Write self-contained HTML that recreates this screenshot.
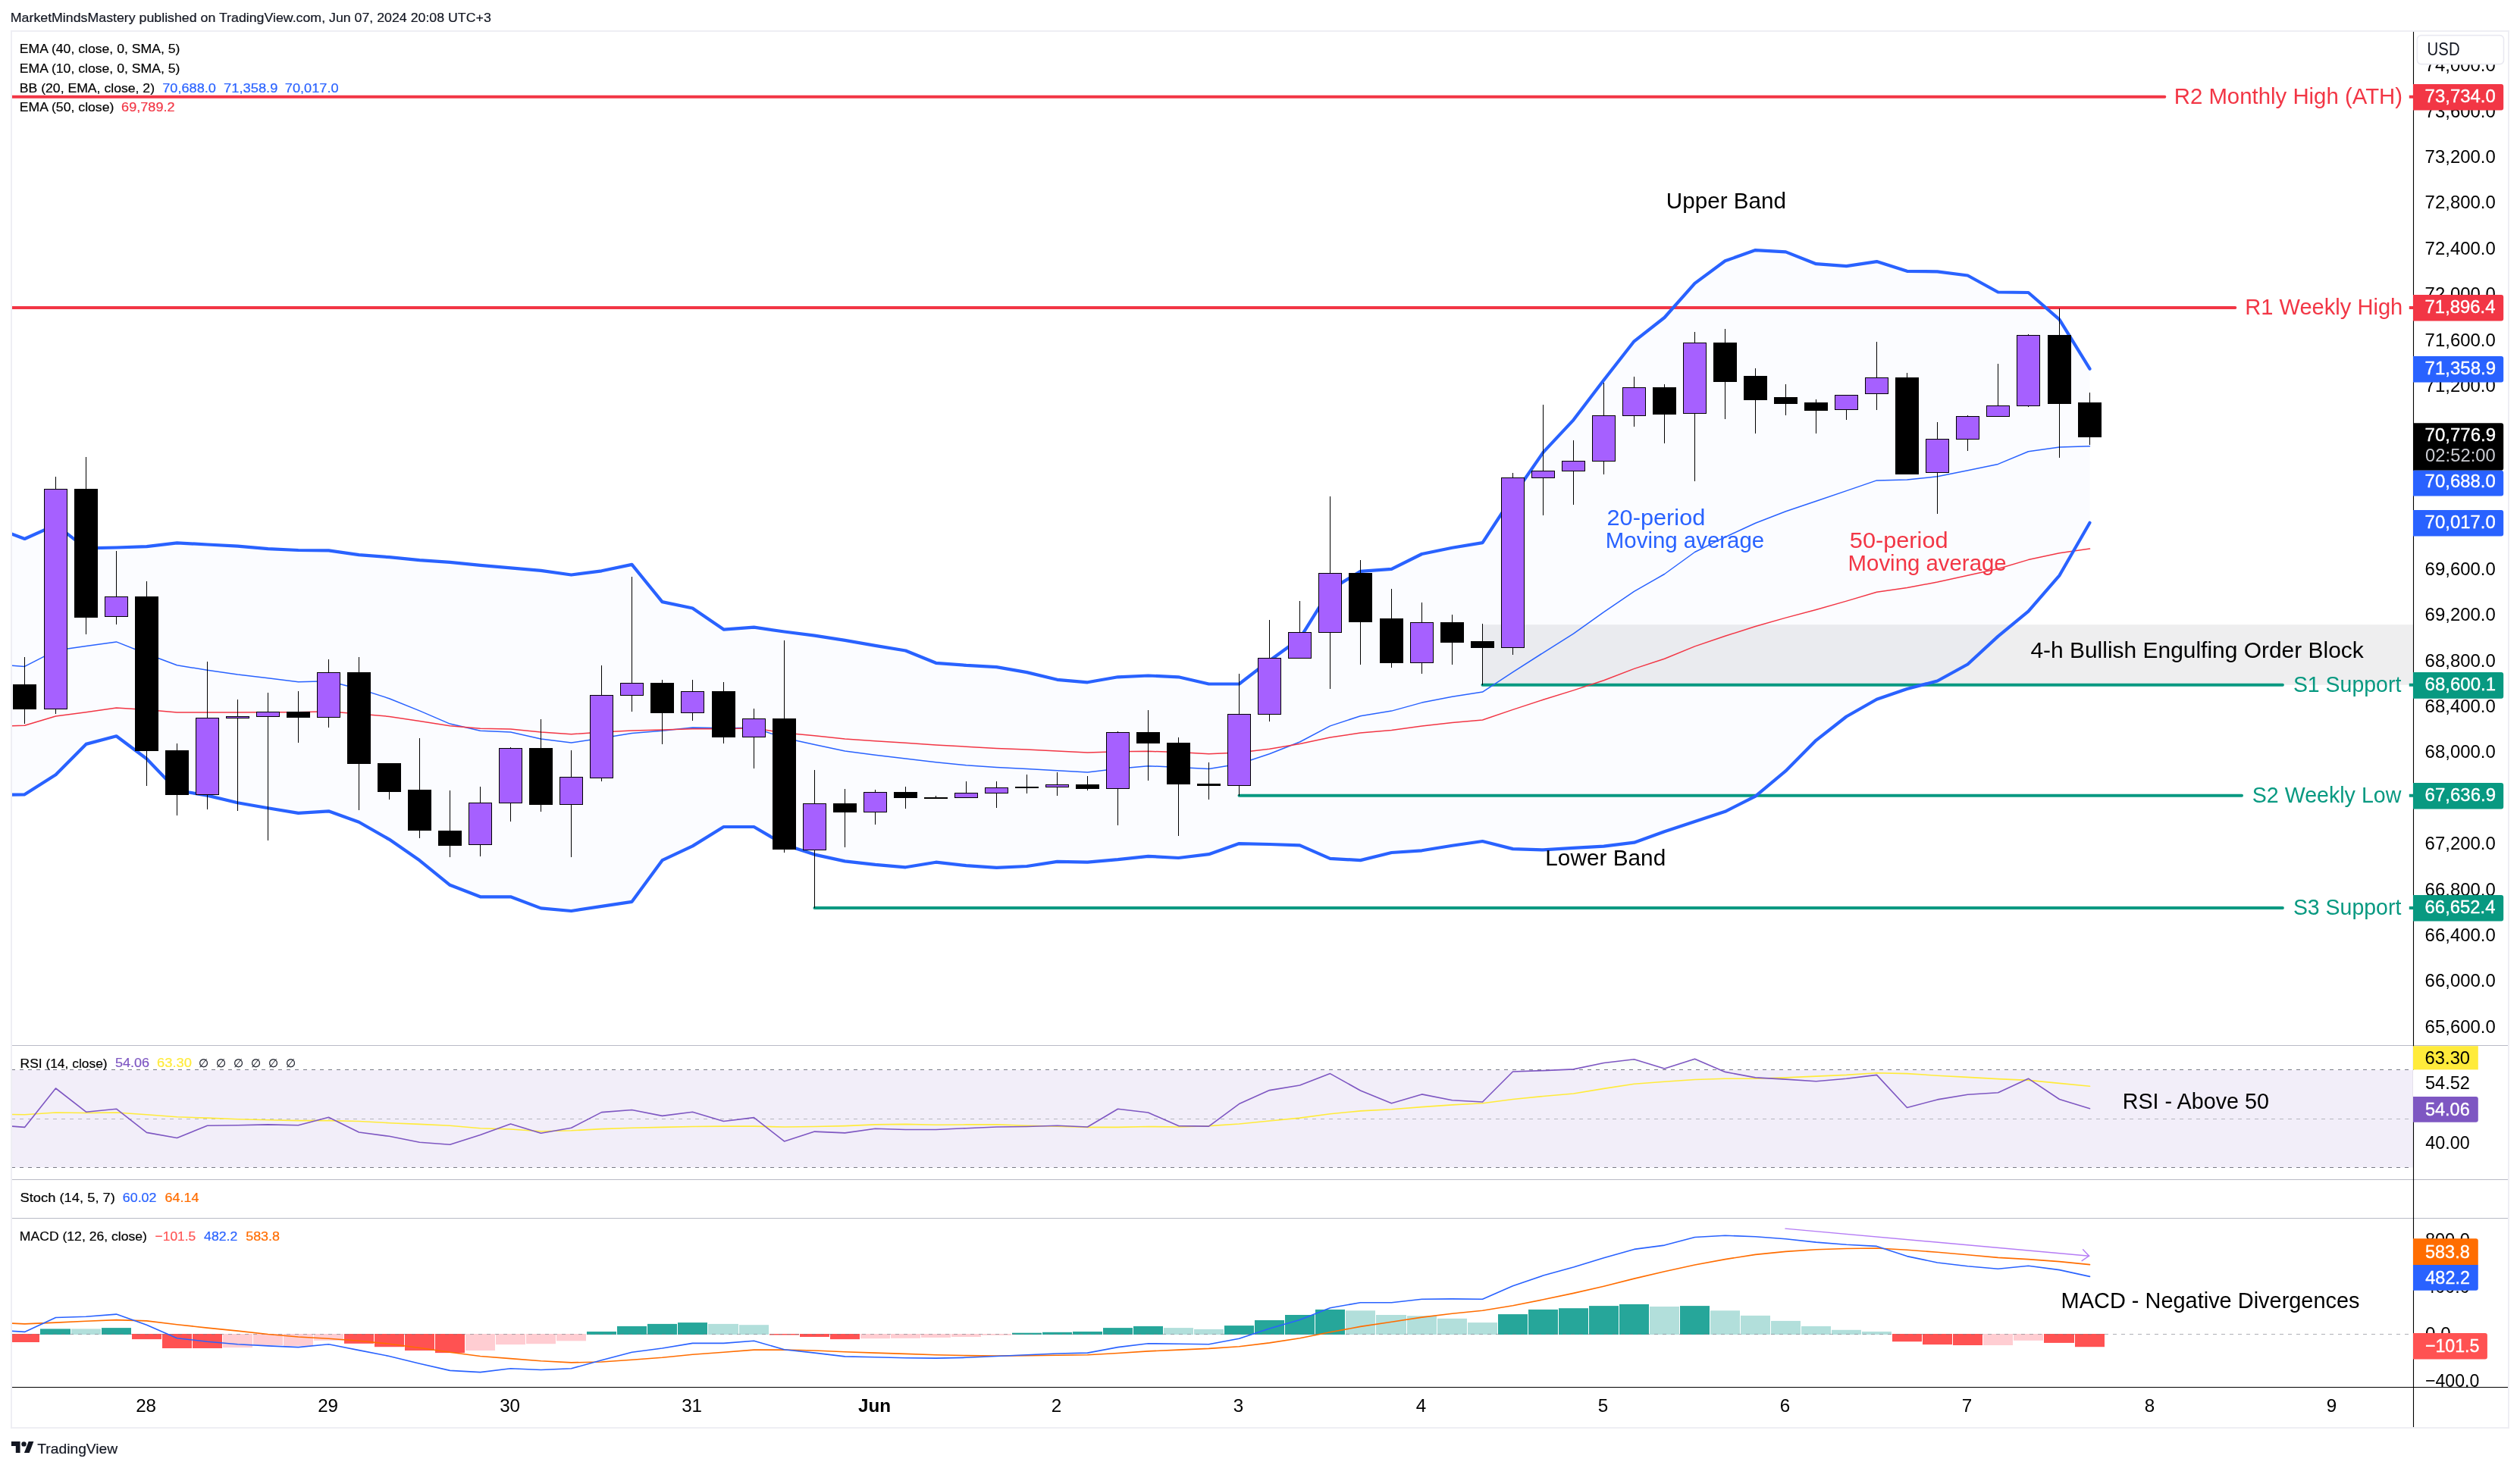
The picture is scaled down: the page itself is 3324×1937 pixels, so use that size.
<!DOCTYPE html><html><head><meta charset="utf-8"><title>BTCUSD chart</title><style>html,body{margin:0;padding:0;background:#fff}body{width:3324px;height:1937px;overflow:hidden}</style></head><body><svg width="3324" height="1937" viewBox="0 0 3324 1937" font-family='"Liberation Sans", sans-serif' style="display:block;filter:brightness(1)"><rect x="0" y="0" width="3324" height="1937" fill="#fff"/>
<text x="13.8" y="28.8" font-size="17.4" fill="#131722" textLength="634.0" lengthAdjust="spacingAndGlyphs" stroke="#131722" stroke-width="0.2">MarketMindsMastery published on TradingView.com, Jun 07, 2024 20:08 UTC+3</text>
<defs><clipPath id="cp"><rect x="16" y="42" width="3167.5" height="1337"/></clipPath><clipPath id="cr"><rect x="16" y="1380" width="3167.5" height="176"/></clipPath><clipPath id="cm"><rect x="16" y="1608" width="3167.5" height="222"/></clipPath><clipPath id="ca"><rect x="3182.9" y="42" width="125.6" height="1842"/></clipPath></defs>
<g clip-path="url(#cp)">
<polygon points="-7.5,696.1 32.5,711.0 73.5,692.6 113.5,723.4 153.5,722.5 193.5,721.2 233.5,716.3 273.5,718.5 313.5,720.7 353.5,724.2 393.5,726.0 433.5,726.4 473.5,732.2 513.5,735.2 553.5,739.2 593.5,741.8 633.5,745.8 673.5,749.3 713.5,752.8 753.5,758.5 793.5,753.3 833.5,744.9 873.5,794.1 913.5,802.5 954.5,830.6 994.5,827.6 1034.5,833.5 1074.5,838.7 1114.5,844.9 1154.5,851.9 1194.5,858.5 1234.5,874.8 1274.5,877.9 1314.5,880.1 1354.5,887.1 1394.5,896.8 1434.5,900.3 1474.5,893.3 1514.5,891.5 1554.5,893.3 1594.5,902.5 1634.5,902.5 1674.5,871.7 1714.5,842.7 1754.5,778.1 1794.5,753.9 1835.5,750.8 1875.5,731.0 1915.5,722.7 1955.5,716.1 1995.5,655.0 2035.5,596.9 2075.5,554.1 2115.5,501.4 2155.5,450.3 2195.5,419.0 2235.5,373.9 2275.5,344.3 2315.5,330.1 2355.5,332.4 2395.5,348.2 2435.5,351.2 2475.5,345.1 2515.5,357.8 2555.5,358.3 2595.5,363.5 2635.5,385.5 2675.5,386.0 2716.5,421.6 2756.5,486.7 2756.5,689.8 2716.5,759.3 2675.5,806.6 2635.5,839.6 2595.5,876.5 2555.5,898.5 2515.5,909.0 2475.5,922.7 2435.5,945.5 2395.5,976.8 2355.5,1017.2 2315.5,1050.6 2275.5,1070.8 2235.5,1084.0 2195.5,1097.2 2155.5,1111.7 2115.5,1116.6 2075.5,1118.8 2035.5,1121.4 1995.5,1120.1 1955.5,1110.0 1915.5,1115.7 1875.5,1122.3 1835.5,1125.0 1794.5,1135.1 1754.5,1132.9 1714.5,1115.3 1674.5,1114.0 1634.5,1113.1 1594.5,1127.2 1554.5,1132.0 1514.5,1129.8 1474.5,1134.2 1434.5,1137.7 1394.5,1136.9 1354.5,1143.0 1314.5,1144.8 1274.5,1142.1 1234.5,1137.7 1194.5,1144.3 1154.5,1140.8 1114.5,1136.4 1074.5,1127.6 1034.5,1114.4 994.5,1091.0 954.5,1091.0 913.5,1116.4 873.5,1135.2 833.5,1189.8 793.5,1195.8 753.5,1202.0 713.5,1198.4 673.5,1183.3 633.5,1183.3 593.5,1167.8 553.5,1135.3 513.5,1107.6 473.5,1084.8 433.5,1070.3 393.5,1072.9 353.5,1066.3 313.5,1059.3 273.5,1049.6 233.5,1043.0 193.5,1001.2 153.5,971.3 113.5,981.9 73.5,1022.3 32.5,1048.3 -7.5,1049.2" fill="#2962ff" fill-opacity="0.018"/>
<rect x="1955.5" y="824.2" width="1228.0" height="79.5" fill="#787b86" fill-opacity="0.13"/>
<line x1="16.0" y1="127.7" x2="2855.3" y2="127.7" stroke="#f23645" stroke-width="4" stroke-linecap="round"/>
<line x1="3177.8" y1="127.7" x2="3183.5" y2="127.7" stroke="#f23645" stroke-width="4"/>
<line x1="16.0" y1="406.0" x2="2948.3" y2="406.0" stroke="#f23645" stroke-width="4" stroke-linecap="round"/>
<line x1="3177.8" y1="406.0" x2="3183.5" y2="406.0" stroke="#f23645" stroke-width="4"/>
<line x1="1955.5" y1="903.7" x2="3010.9" y2="903.7" stroke="#089981" stroke-width="4" stroke-linecap="round"/>
<line x1="3177.8" y1="903.7" x2="3183.5" y2="903.7" stroke="#089981" stroke-width="4"/>
<line x1="1634.5" y1="1049.7" x2="2957.0" y2="1049.7" stroke="#089981" stroke-width="4" stroke-linecap="round"/>
<line x1="3177.8" y1="1049.7" x2="3183.5" y2="1049.7" stroke="#089981" stroke-width="4"/>
<line x1="1074.5" y1="1197.9" x2="3010.9" y2="1197.9" stroke="#089981" stroke-width="4" stroke-linecap="round"/>
<line x1="3177.8" y1="1197.9" x2="3183.5" y2="1197.9" stroke="#089981" stroke-width="4"/>
<polyline points="-7.5,876.8 32.5,879.4 73.5,858.3 113.5,852.6 153.5,846.9 193.5,862.7 233.5,877.7 273.5,884.3 313.5,890.0 353.5,894.8 393.5,899.7 433.5,898.8 473.5,908.9 513.5,921.7 553.5,937.9 593.5,955.1 633.5,964.3 673.5,966.1 713.5,974.9 753.5,980.1 793.5,974.0 833.5,967.4 873.5,964.3 913.5,959.9 954.5,960.8 994.5,960.3 1034.5,973.7 1074.5,982.5 1114.5,990.9 1154.5,996.2 1194.5,1001.0 1234.5,1005.8 1274.5,1009.8 1314.5,1012.4 1354.5,1014.6 1394.5,1016.8 1434.5,1019.0 1474.5,1014.2 1514.5,1010.7 1554.5,1012.4 1594.5,1014.6 1634.5,1008.0 1674.5,994.8 1714.5,979.0 1754.5,957.9 1794.5,944.7 1835.5,938.1 1875.5,927.1 1915.5,919.2 1955.5,913.1 1995.5,886.8 2035.5,861.3 2075.5,836.2 2115.5,807.6 2155.5,780.4 2195.5,757.5 2235.5,728.5 2275.5,708.7 2315.5,690.2 2355.5,674.8 2395.5,661.2 2435.5,647.6 2475.5,633.9 2515.5,633.1 2555.5,628.7 2595.5,620.8 2635.5,612.4 2675.5,595.7 2716.5,590.0 2756.5,588.7" fill="none" stroke="#2962ff" stroke-width="1.5" stroke-linejoin="round" stroke-linecap="round"/>
<polyline points="-7.5,958.1 32.5,957.3 73.5,945.0 113.5,939.7 153.5,934.0 193.5,936.6 233.5,940.1 273.5,940.1 313.5,940.1 353.5,939.7 393.5,939.7 433.5,938.8 473.5,941.9 513.5,945.4 553.5,951.6 593.5,957.7 633.5,961.2 673.5,962.1 713.5,966.1 753.5,968.7 793.5,966.1 833.5,963.9 873.5,963.0 913.5,961.7 954.5,961.7 994.5,960.8 1034.5,967.1 1074.5,970.7 1114.5,975.0 1154.5,977.7 1194.5,980.3 1234.5,983.0 1274.5,985.2 1314.5,987.4 1354.5,989.1 1394.5,990.9 1434.5,993.1 1474.5,991.8 1514.5,991.3 1554.5,992.6 1594.5,994.8 1634.5,993.1 1674.5,988.2 1714.5,981.6 1754.5,972.9 1794.5,967.1 1835.5,963.6 1875.5,957.9 1915.5,953.5 1955.5,950.0 1995.5,936.4 2035.5,923.3 2075.5,910.9 2115.5,897.8 2155.5,882.4 2195.5,869.2 2235.5,852.9 2275.5,839.3 2315.5,826.5 2355.5,815.1 2395.5,804.5 2435.5,793.1 2475.5,781.2 2515.5,775.5 2555.5,768.0 2595.5,759.3 2635.5,750.5 2675.5,738.6 2716.5,729.8 2756.5,724.1" fill="none" stroke="#f23645" stroke-width="1.5" stroke-linejoin="round" stroke-linecap="round"/>
<polyline points="-7.5,696.1 32.5,711.0 73.5,692.6 113.5,723.4 153.5,722.5 193.5,721.2 233.5,716.3 273.5,718.5 313.5,720.7 353.5,724.2 393.5,726.0 433.5,726.4 473.5,732.2 513.5,735.2 553.5,739.2 593.5,741.8 633.5,745.8 673.5,749.3 713.5,752.8 753.5,758.5 793.5,753.3 833.5,744.9 873.5,794.1 913.5,802.5 954.5,830.6 994.5,827.6 1034.5,833.5 1074.5,838.7 1114.5,844.9 1154.5,851.9 1194.5,858.5 1234.5,874.8 1274.5,877.9 1314.5,880.1 1354.5,887.1 1394.5,896.8 1434.5,900.3 1474.5,893.3 1514.5,891.5 1554.5,893.3 1594.5,902.5 1634.5,902.5 1674.5,871.7 1714.5,842.7 1754.5,778.1 1794.5,753.9 1835.5,750.8 1875.5,731.0 1915.5,722.7 1955.5,716.1 1995.5,655.0 2035.5,596.9 2075.5,554.1 2115.5,501.4 2155.5,450.3 2195.5,419.0 2235.5,373.9 2275.5,344.3 2315.5,330.1 2355.5,332.4 2395.5,348.2 2435.5,351.2 2475.5,345.1 2515.5,357.8 2555.5,358.3 2595.5,363.5 2635.5,385.5 2675.5,386.0 2716.5,421.6 2756.5,486.7" fill="none" stroke="#2962ff" stroke-width="4.2" stroke-linejoin="round" stroke-linecap="round"/>
<polyline points="-7.5,1049.2 32.5,1048.3 73.5,1022.3 113.5,981.9 153.5,971.3 193.5,1001.2 233.5,1043.0 273.5,1049.6 313.5,1059.3 353.5,1066.3 393.5,1072.9 433.5,1070.3 473.5,1084.8 513.5,1107.6 553.5,1135.3 593.5,1167.8 633.5,1183.3 673.5,1183.3 713.5,1198.4 753.5,1202.0 793.5,1195.8 833.5,1189.8 873.5,1135.2 913.5,1116.4 954.5,1091.0 994.5,1091.0 1034.5,1114.4 1074.5,1127.6 1114.5,1136.4 1154.5,1140.8 1194.5,1144.3 1234.5,1137.7 1274.5,1142.1 1314.5,1144.8 1354.5,1143.0 1394.5,1136.9 1434.5,1137.7 1474.5,1134.2 1514.5,1129.8 1554.5,1132.0 1594.5,1127.2 1634.5,1113.1 1674.5,1114.0 1714.5,1115.3 1754.5,1132.9 1794.5,1135.1 1835.5,1125.0 1875.5,1122.3 1915.5,1115.7 1955.5,1110.0 1995.5,1120.1 2035.5,1121.4 2075.5,1118.8 2115.5,1116.6 2155.5,1111.7 2195.5,1097.2 2235.5,1084.0 2275.5,1070.8 2315.5,1050.6 2355.5,1017.2 2395.5,976.8 2435.5,945.5 2475.5,922.7 2515.5,909.0 2555.5,898.5 2595.5,876.5 2635.5,839.6 2675.5,806.6 2716.5,759.3 2756.5,689.8" fill="none" stroke="#2962ff" stroke-width="4.2" stroke-linejoin="round" stroke-linecap="round"/>
<g shape-rendering="crispEdges">
<line x1="32.5" y1="867.2" x2="32.5" y2="954.7" stroke="#000" stroke-width="1"/>
<rect x="17.5" y="903.2" width="30" height="32.5" fill="#000" stroke="#000" stroke-width="1"/>
<line x1="73.5" y1="629.3" x2="73.5" y2="941.5" stroke="#000" stroke-width="1"/>
<rect x="58.5" y="645.6" width="30" height="289.8" fill="#a660ff" stroke="#000" stroke-width="1"/>
<line x1="113.5" y1="602.5" x2="113.5" y2="836.9" stroke="#000" stroke-width="1"/>
<rect x="98.5" y="645.2" width="30" height="168.8" fill="#000" stroke="#000" stroke-width="1"/>
<line x1="153.5" y1="726.5" x2="153.5" y2="823.7" stroke="#000" stroke-width="1"/>
<rect x="138.5" y="787.6" width="30" height="25.9" fill="#a660ff" stroke="#000" stroke-width="1"/>
<line x1="193.5" y1="767.4" x2="193.5" y2="1037.4" stroke="#000" stroke-width="1"/>
<rect x="178.5" y="787.2" width="30" height="203.6" fill="#000" stroke="#000" stroke-width="1"/>
<line x1="233.5" y1="981.1" x2="233.5" y2="1075.6" stroke="#000" stroke-width="1"/>
<rect x="218.5" y="990.3" width="30" height="58.5" fill="#000" stroke="#000" stroke-width="1"/>
<line x1="273.5" y1="873.4" x2="273.5" y2="1067.7" stroke="#000" stroke-width="1"/>
<rect x="258.5" y="947.2" width="30" height="101.1" fill="#a660ff" stroke="#000" stroke-width="1"/>
<line x1="313.5" y1="923.0" x2="313.5" y2="1069.9" stroke="#000" stroke-width="1"/>
<rect x="298.5" y="945.5" width="30" height="2.2" fill="#a660ff" stroke="#000" stroke-width="1"/>
<line x1="353.5" y1="914.2" x2="353.5" y2="1108.6" stroke="#000" stroke-width="1"/>
<rect x="338.5" y="939.3" width="30" height="6.2" fill="#a660ff" stroke="#000" stroke-width="1"/>
<line x1="393.5" y1="912.0" x2="393.5" y2="979.8" stroke="#000" stroke-width="1"/>
<rect x="378.5" y="939.3" width="30" height="7.0" fill="#000" stroke="#000" stroke-width="1"/>
<line x1="433.5" y1="870.3" x2="433.5" y2="960.0" stroke="#000" stroke-width="1"/>
<rect x="418.5" y="887.4" width="30" height="58.9" fill="#a660ff" stroke="#000" stroke-width="1"/>
<line x1="473.5" y1="867.2" x2="473.5" y2="1068.6" stroke="#000" stroke-width="1"/>
<rect x="458.5" y="887.4" width="30" height="120.0" fill="#000" stroke="#000" stroke-width="1"/>
<line x1="513.5" y1="1007.5" x2="513.5" y2="1054.5" stroke="#000" stroke-width="1"/>
<rect x="498.5" y="1007.5" width="30" height="36.5" fill="#000" stroke="#000" stroke-width="1"/>
<line x1="553.5" y1="974.0" x2="553.5" y2="1105.5" stroke="#000" stroke-width="1"/>
<rect x="538.5" y="1042.2" width="30" height="53.2" fill="#000" stroke="#000" stroke-width="1"/>
<line x1="593.5" y1="1043.1" x2="593.5" y2="1130.6" stroke="#000" stroke-width="1"/>
<rect x="578.5" y="1096.3" width="30" height="19.3" fill="#000" stroke="#000" stroke-width="1"/>
<line x1="633.5" y1="1037.8" x2="633.5" y2="1129.7" stroke="#000" stroke-width="1"/>
<rect x="618.5" y="1059.3" width="30" height="55.0" fill="#a660ff" stroke="#000" stroke-width="1"/>
<line x1="673.5" y1="985.9" x2="673.5" y2="1084.0" stroke="#000" stroke-width="1"/>
<rect x="658.5" y="987.2" width="30" height="72.1" fill="#a660ff" stroke="#000" stroke-width="1"/>
<line x1="713.5" y1="949.0" x2="713.5" y2="1070.8" stroke="#000" stroke-width="1"/>
<rect x="698.5" y="987.2" width="30" height="74.3" fill="#000" stroke="#000" stroke-width="1"/>
<line x1="753.5" y1="989.9" x2="753.5" y2="1130.6" stroke="#000" stroke-width="1"/>
<rect x="738.5" y="1025.9" width="30" height="35.6" fill="#a660ff" stroke="#000" stroke-width="1"/>
<line x1="793.5" y1="877.7" x2="793.5" y2="1030.8" stroke="#000" stroke-width="1"/>
<rect x="778.5" y="917.3" width="30" height="109.0" fill="#a660ff" stroke="#000" stroke-width="1"/>
<line x1="833.5" y1="761.2" x2="833.5" y2="938.9" stroke="#000" stroke-width="1"/>
<rect x="818.5" y="901.1" width="30" height="16.3" fill="#a660ff" stroke="#000" stroke-width="1"/>
<line x1="873.5" y1="897.1" x2="873.5" y2="982.0" stroke="#000" stroke-width="1"/>
<rect x="858.5" y="901.1" width="30" height="39.6" fill="#000" stroke="#000" stroke-width="1"/>
<line x1="913.5" y1="897.1" x2="913.5" y2="950.7" stroke="#000" stroke-width="1"/>
<rect x="898.5" y="912.5" width="30" height="27.7" fill="#a660ff" stroke="#000" stroke-width="1"/>
<line x1="954.5" y1="900.2" x2="954.5" y2="981.1" stroke="#000" stroke-width="1"/>
<rect x="939.5" y="912.5" width="30" height="60.2" fill="#000" stroke="#000" stroke-width="1"/>
<line x1="994.5" y1="934.9" x2="994.5" y2="1013.6" stroke="#000" stroke-width="1"/>
<rect x="979.5" y="948.5" width="30" height="24.2" fill="#a660ff" stroke="#000" stroke-width="1"/>
<line x1="1034.5" y1="844.5" x2="1034.5" y2="1124.6" stroke="#000" stroke-width="1"/>
<rect x="1019.5" y="948.3" width="30" height="172.4" fill="#000" stroke="#000" stroke-width="1"/>
<line x1="1074.5" y1="1016.0" x2="1074.5" y2="1197.6" stroke="#000" stroke-width="1"/>
<rect x="1059.5" y="1060.8" width="30" height="60.7" fill="#a660ff" stroke="#000" stroke-width="1"/>
<line x1="1114.5" y1="1041.1" x2="1114.5" y2="1118.0" stroke="#000" stroke-width="1"/>
<rect x="1099.5" y="1060.4" width="30" height="11.4" fill="#000" stroke="#000" stroke-width="1"/>
<line x1="1154.5" y1="1042.4" x2="1154.5" y2="1087.7" stroke="#000" stroke-width="1"/>
<rect x="1139.5" y="1045.5" width="30" height="26.4" fill="#a660ff" stroke="#000" stroke-width="1"/>
<line x1="1194.5" y1="1038.0" x2="1194.5" y2="1067.4" stroke="#000" stroke-width="1"/>
<rect x="1179.5" y="1045.5" width="30" height="7.0" fill="#000" stroke="#000" stroke-width="1"/>
<line x1="1234.5" y1="1049.9" x2="1234.5" y2="1052.9" stroke="#000" stroke-width="1"/>
<rect x="1219.5" y="1052.1" width="30" height="1.0" fill="#000" stroke="#000" stroke-width="1"/>
<line x1="1274.5" y1="1031.4" x2="1274.5" y2="1052.5" stroke="#000" stroke-width="1"/>
<rect x="1259.5" y="1046.3" width="30" height="6.2" fill="#a660ff" stroke="#000" stroke-width="1"/>
<line x1="1314.5" y1="1030.5" x2="1314.5" y2="1065.7" stroke="#000" stroke-width="1"/>
<rect x="1299.5" y="1039.3" width="30" height="7.5" fill="#a660ff" stroke="#000" stroke-width="1"/>
<line x1="1354.5" y1="1022.2" x2="1354.5" y2="1046.8" stroke="#000" stroke-width="1"/>
<rect x="1339.5" y="1038.0" width="30" height="1.8" fill="#000" stroke="#000" stroke-width="1"/>
<line x1="1394.5" y1="1019.1" x2="1394.5" y2="1049.9" stroke="#000" stroke-width="1"/>
<rect x="1379.5" y="1035.3" width="30" height="3.5" fill="#a660ff" stroke="#000" stroke-width="1"/>
<line x1="1434.5" y1="1024.4" x2="1434.5" y2="1042.8" stroke="#000" stroke-width="1"/>
<rect x="1419.5" y="1035.3" width="30" height="5.3" fill="#000" stroke="#000" stroke-width="1"/>
<line x1="1474.5" y1="965.0" x2="1474.5" y2="1089.4" stroke="#000" stroke-width="1"/>
<rect x="1459.5" y="966.3" width="30" height="73.9" fill="#a660ff" stroke="#000" stroke-width="1"/>
<line x1="1514.5" y1="937.3" x2="1514.5" y2="1029.6" stroke="#000" stroke-width="1"/>
<rect x="1499.5" y="966.3" width="30" height="14.5" fill="#000" stroke="#000" stroke-width="1"/>
<line x1="1554.5" y1="972.5" x2="1554.5" y2="1102.6" stroke="#000" stroke-width="1"/>
<rect x="1539.5" y="980.4" width="30" height="54.5" fill="#000" stroke="#000" stroke-width="1"/>
<line x1="1594.5" y1="1006.3" x2="1594.5" y2="1054.7" stroke="#000" stroke-width="1"/>
<rect x="1579.5" y="1034.0" width="30" height="2.6" fill="#000" stroke="#000" stroke-width="1"/>
<line x1="1634.5" y1="889.4" x2="1634.5" y2="1049.9" stroke="#000" stroke-width="1"/>
<rect x="1619.5" y="942.6" width="30" height="94.1" fill="#a660ff" stroke="#000" stroke-width="1"/>
<line x1="1674.5" y1="818.1" x2="1674.5" y2="951.8" stroke="#000" stroke-width="1"/>
<rect x="1659.5" y="868.7" width="30" height="73.9" fill="#a660ff" stroke="#000" stroke-width="1"/>
<line x1="1714.5" y1="793.1" x2="1714.5" y2="868.7" stroke="#000" stroke-width="1"/>
<rect x="1699.5" y="834.9" width="30" height="33.9" fill="#a660ff" stroke="#000" stroke-width="1"/>
<line x1="1754.5" y1="654.6" x2="1754.5" y2="908.7" stroke="#000" stroke-width="1"/>
<rect x="1739.5" y="756.6" width="30" height="78.3" fill="#a660ff" stroke="#000" stroke-width="1"/>
<line x1="1794.5" y1="738.6" x2="1794.5" y2="877.1" stroke="#000" stroke-width="1"/>
<rect x="1779.5" y="756.6" width="30" height="64.2" fill="#000" stroke="#000" stroke-width="1"/>
<line x1="1835.5" y1="777.3" x2="1835.5" y2="881.0" stroke="#000" stroke-width="1"/>
<rect x="1820.5" y="816.4" width="30" height="58.5" fill="#000" stroke="#000" stroke-width="1"/>
<line x1="1875.5" y1="795.3" x2="1875.5" y2="888.9" stroke="#000" stroke-width="1"/>
<rect x="1860.5" y="821.7" width="30" height="53.2" fill="#a660ff" stroke="#000" stroke-width="1"/>
<line x1="1915.5" y1="810.7" x2="1915.5" y2="877.1" stroke="#000" stroke-width="1"/>
<rect x="1900.5" y="821.7" width="30" height="25.5" fill="#000" stroke="#000" stroke-width="1"/>
<line x1="1955.5" y1="823.4" x2="1955.5" y2="903.9" stroke="#000" stroke-width="1"/>
<rect x="1940.5" y="846.7" width="30" height="7.9" fill="#000" stroke="#000" stroke-width="1"/>
<line x1="1995.5" y1="623.5" x2="1995.5" y2="864.0" stroke="#000" stroke-width="1"/>
<rect x="1980.5" y="630.9" width="30" height="223.4" fill="#a660ff" stroke="#000" stroke-width="1"/>
<line x1="2035.5" y1="534.2" x2="2035.5" y2="680.2" stroke="#000" stroke-width="1"/>
<rect x="2020.5" y="621.7" width="30" height="9.2" fill="#a660ff" stroke="#000" stroke-width="1"/>
<line x1="2075.5" y1="581.2" x2="2075.5" y2="666.1" stroke="#000" stroke-width="1"/>
<rect x="2060.5" y="608.5" width="30" height="13.2" fill="#a660ff" stroke="#000" stroke-width="1"/>
<line x1="2115.5" y1="505.2" x2="2115.5" y2="626.1" stroke="#000" stroke-width="1"/>
<rect x="2100.5" y="548.7" width="30" height="59.8" fill="#a660ff" stroke="#000" stroke-width="1"/>
<line x1="2155.5" y1="497.3" x2="2155.5" y2="563.2" stroke="#000" stroke-width="1"/>
<rect x="2140.5" y="511.8" width="30" height="36.9" fill="#a660ff" stroke="#000" stroke-width="1"/>
<line x1="2195.5" y1="507.4" x2="2195.5" y2="584.8" stroke="#000" stroke-width="1"/>
<rect x="2180.5" y="511.3" width="30" height="34.7" fill="#000" stroke="#000" stroke-width="1"/>
<line x1="2235.5" y1="438.3" x2="2235.5" y2="634.9" stroke="#000" stroke-width="1"/>
<rect x="2220.5" y="452.9" width="30" height="92.8" fill="#a660ff" stroke="#000" stroke-width="1"/>
<line x1="2275.5" y1="434.4" x2="2275.5" y2="553.1" stroke="#000" stroke-width="1"/>
<rect x="2260.5" y="452.9" width="30" height="50.1" fill="#000" stroke="#000" stroke-width="1"/>
<line x1="2315.5" y1="486.3" x2="2315.5" y2="572.0" stroke="#000" stroke-width="1"/>
<rect x="2300.5" y="496.4" width="30" height="30.8" fill="#000" stroke="#000" stroke-width="1"/>
<line x1="2355.5" y1="507.4" x2="2355.5" y2="547.8" stroke="#000" stroke-width="1"/>
<rect x="2340.5" y="524.5" width="30" height="7.5" fill="#000" stroke="#000" stroke-width="1"/>
<line x1="2395.5" y1="527.2" x2="2395.5" y2="572.0" stroke="#000" stroke-width="1"/>
<rect x="2380.5" y="531.6" width="30" height="9.7" fill="#000" stroke="#000" stroke-width="1"/>
<line x1="2435.5" y1="521.4" x2="2435.5" y2="554.0" stroke="#000" stroke-width="1"/>
<rect x="2420.5" y="521.4" width="30" height="19.3" fill="#a660ff" stroke="#000" stroke-width="1"/>
<line x1="2475.5" y1="451.1" x2="2475.5" y2="540.8" stroke="#000" stroke-width="1"/>
<rect x="2460.5" y="498.6" width="30" height="21.1" fill="#a660ff" stroke="#000" stroke-width="1"/>
<line x1="2515.5" y1="491.5" x2="2515.5" y2="625.7" stroke="#000" stroke-width="1"/>
<rect x="2500.5" y="498.6" width="30" height="127.1" fill="#000" stroke="#000" stroke-width="1"/>
<line x1="2555.5" y1="557.1" x2="2555.5" y2="678.0" stroke="#000" stroke-width="1"/>
<rect x="2540.5" y="579.9" width="30" height="43.5" fill="#a660ff" stroke="#000" stroke-width="1"/>
<line x1="2595.5" y1="547.8" x2="2595.5" y2="595.3" stroke="#000" stroke-width="1"/>
<rect x="2580.5" y="549.6" width="30" height="30.3" fill="#a660ff" stroke="#000" stroke-width="1"/>
<line x1="2635.5" y1="480.1" x2="2635.5" y2="549.6" stroke="#000" stroke-width="1"/>
<rect x="2620.5" y="535.5" width="30" height="14.1" fill="#a660ff" stroke="#000" stroke-width="1"/>
<line x1="2675.5" y1="441.4" x2="2675.5" y2="536.8" stroke="#000" stroke-width="1"/>
<rect x="2660.5" y="442.7" width="30" height="92.8" fill="#a660ff" stroke="#000" stroke-width="1"/>
<line x1="2716.5" y1="406.7" x2="2716.5" y2="604.1" stroke="#000" stroke-width="1"/>
<rect x="2701.5" y="442.7" width="30" height="89.3" fill="#000" stroke="#000" stroke-width="1"/>
<line x1="2756.5" y1="518.4" x2="2756.5" y2="587.0" stroke="#000" stroke-width="1"/>
<rect x="2741.5" y="531.6" width="30" height="44.4" fill="#000" stroke="#000" stroke-width="1"/>
</g>
<text x="2867.7" y="136.5" font-size="30.4" fill="#f23645" textLength="301.4" lengthAdjust="spacingAndGlyphs">R2 Monthly High (ATH)</text>
<text x="2961.2" y="414.8" font-size="30.4" fill="#f23645" textLength="208.1" lengthAdjust="spacingAndGlyphs">R1 Weekly High</text>
<text x="3024.9" y="912.5" font-size="30.4" fill="#089981" textLength="142.4" lengthAdjust="spacingAndGlyphs">S1 Support</text>
<text x="2970.7" y="1058.5" font-size="30.4" fill="#089981" textLength="196.7" lengthAdjust="spacingAndGlyphs">S2 Weekly Low</text>
<text x="3024.9" y="1206.7" font-size="30.4" fill="#089981" textLength="142.4" lengthAdjust="spacingAndGlyphs">S3 Support</text>
<text x="2197.8" y="275.1" font-size="30.4" fill="#000" textLength="158.2" lengthAdjust="spacingAndGlyphs">Upper Band</text>
<text x="2038.3" y="1142.0" font-size="30.4" fill="#000" textLength="158.9" lengthAdjust="spacingAndGlyphs">Lower Band</text>
<text x="2119.5" y="693.3" font-size="30.4" fill="#2962ff" textLength="129.8" lengthAdjust="spacingAndGlyphs">20-period</text>
<text x="2117.8" y="723.1" font-size="30.4" fill="#2962ff" textLength="209.4" lengthAdjust="spacingAndGlyphs">Moving average</text>
<text x="2439.8" y="723.1" font-size="30.4" fill="#f23645" textLength="129.8" lengthAdjust="spacingAndGlyphs">50-period</text>
<text x="2437.6" y="753.2" font-size="30.4" fill="#f23645" textLength="209.1" lengthAdjust="spacingAndGlyphs">Moving average</text>
<text x="2678.4" y="868.3" font-size="30.4" fill="#000" textLength="439.4" lengthAdjust="spacingAndGlyphs">4-h Bullish Engulfing Order Block</text>
</g>
<text x="25.8" y="69.7" font-size="17.4" fill="#000" textLength="211.6" lengthAdjust="spacingAndGlyphs" stroke="#000" stroke-width="0.2">EMA (40, close, 0, SMA, 5)</text>
<text x="25.8" y="95.7" font-size="17.4" fill="#000" textLength="211.6" lengthAdjust="spacingAndGlyphs" stroke="#000" stroke-width="0.2">EMA (10, close, 0, SMA, 5)</text>
<text x="25.8" y="121.7" font-size="17.4" fill="#000" textLength="178.2" lengthAdjust="spacingAndGlyphs" stroke="#000" stroke-width="0.2">BB (20, EMA, close, 2)</text>
<text x="214.2" y="121.7" font-size="17.4" fill="#2962ff" textLength="70.7" lengthAdjust="spacingAndGlyphs" stroke="#2962ff" stroke-width="0.2">70,688.0</text>
<text x="295.1" y="121.7" font-size="17.4" fill="#2962ff" textLength="71.3" lengthAdjust="spacingAndGlyphs" stroke="#2962ff" stroke-width="0.2">71,358.9</text>
<text x="375.8" y="121.7" font-size="17.4" fill="#2962ff" textLength="70.9" lengthAdjust="spacingAndGlyphs" stroke="#2962ff" stroke-width="0.2">70,017.0</text>
<text x="25.8" y="147.4" font-size="17.4" fill="#000" textLength="124.6" lengthAdjust="spacingAndGlyphs" stroke="#000" stroke-width="0.2">EMA (50, close)</text>
<text x="160.1" y="147.4" font-size="17.4" fill="#f23645" textLength="70.5" lengthAdjust="spacingAndGlyphs" stroke="#f23645" stroke-width="0.2">69,789.2</text>
<g clip-path="url(#cr)">
<rect x="16" y="1412" width="3167.5" height="128.5" fill="#7e57c2" fill-opacity="0.1"/>
<line x1="15" y1="1411.5" x2="3178.5" y2="1411.5" stroke="#787b86" stroke-width="1.1" stroke-dasharray="5,6" stroke-opacity="1"/>
<line x1="15" y1="1476.5" x2="3178.5" y2="1476.5" stroke="#787b86" stroke-width="1.1" stroke-dasharray="5,6" stroke-opacity="0.5"/>
<line x1="15" y1="1540.5" x2="3178.5" y2="1540.5" stroke="#787b86" stroke-width="1.1" stroke-dasharray="5,6" stroke-opacity="1"/>
<defs><linearGradient id="ob" x1="0" y1="1380" x2="0" y2="1411.3" gradientUnits="userSpaceOnUse"><stop offset="0" stop-color="#4caf50" stop-opacity="0.16"/><stop offset="1" stop-color="#4caf50" stop-opacity="0"/></linearGradient><clipPath id="cob"><rect x="16" y="1380" width="3167.5" height="31.3"/></clipPath></defs>
<polygon clip-path="url(#cob)" points="-7.5,1412 -7.5,1484.3 32.5,1487.4 73.5,1436.0 113.5,1467.2 153.5,1463.2 193.5,1494.4 233.5,1501.5 273.5,1485.2 313.5,1484.8 353.5,1483.9 393.5,1484.8 433.5,1474.2 473.5,1494.0 513.5,1499.3 553.5,1507.2 593.5,1510.3 633.5,1497.5 673.5,1483.0 713.5,1495.3 753.5,1488.3 793.5,1467.6 833.5,1464.5 873.5,1472.4 913.5,1467.2 954.5,1479.5 994.5,1474.6 1034.5,1505.9 1074.5,1493.1 1114.5,1494.9 1154.5,1489.2 1194.5,1490.5 1234.5,1490.5 1274.5,1488.7 1314.5,1487.0 1354.5,1486.5 1394.5,1485.2 1434.5,1487.0 1474.5,1463.2 1514.5,1468.0 1554.5,1485.6 1594.5,1486.1 1634.5,1456.6 1674.5,1438.6 1714.5,1432.0 1754.5,1416.6 1794.5,1439.0 1835.5,1455.7 1875.5,1443.9 1915.5,1451.8 1955.5,1454.0 1995.5,1414.0 2035.5,1412.6 2075.5,1410.9 2115.5,1402.5 2155.5,1397.7 2195.5,1410.0 2235.5,1397.3 2275.5,1414.4 2315.5,1421.9 2355.5,1424.1 2395.5,1426.7 2435.5,1423.2 2475.5,1418.4 2515.5,1461.5 2555.5,1450.9 2595.5,1444.3 2635.5,1441.7 2675.5,1423.2 2716.5,1450.5 2756.5,1462.8 2756.5,1412" fill="url(#ob)"/>
<polyline points="-7.5,1470.2 32.5,1470.7 73.5,1468.0 113.5,1468.5 153.5,1468.0 193.5,1470.7 233.5,1473.8 273.5,1475.1 313.5,1476.8 353.5,1477.7 393.5,1478.6 433.5,1478.6 473.5,1479.5 513.5,1481.7 553.5,1483.4 593.5,1485.2 633.5,1488.7 673.5,1490.0 713.5,1492.7 753.5,1491.8 793.5,1489.6 833.5,1488.3 873.5,1487.4 913.5,1486.5 954.5,1486.1 994.5,1486.1 1034.5,1487.0 1074.5,1486.5 1114.5,1485.6 1154.5,1483.9 1194.5,1483.4 1234.5,1484.3 1274.5,1483.9 1314.5,1483.9 1354.5,1485.2 1394.5,1486.1 1434.5,1487.4 1474.5,1487.4 1514.5,1486.5 1554.5,1487.0 1594.5,1485.6 1634.5,1483.0 1674.5,1479.0 1714.5,1475.1 1754.5,1469.8 1794.5,1465.9 1835.5,1463.7 1875.5,1460.6 1915.5,1457.9 1955.5,1455.7 1995.5,1450.5 2035.5,1446.5 2075.5,1443.0 2115.5,1436.4 2155.5,1430.2 2195.5,1427.2 2235.5,1424.5 2275.5,1423.2 2315.5,1423.2 2355.5,1421.9 2395.5,1420.1 2435.5,1418.4 2475.5,1415.7 2515.5,1416.6 2555.5,1419.2 2595.5,1421.4 2635.5,1423.6 2675.5,1425.4 2716.5,1429.4 2756.5,1433.3" fill="none" stroke="#ffeb3b" stroke-width="1.6" stroke-linejoin="round" stroke-linecap="round"/>
<polyline points="-7.5,1484.3 32.5,1487.4 73.5,1436.0 113.5,1467.2 153.5,1463.2 193.5,1494.4 233.5,1501.5 273.5,1485.2 313.5,1484.8 353.5,1483.9 393.5,1484.8 433.5,1474.2 473.5,1494.0 513.5,1499.3 553.5,1507.2 593.5,1510.3 633.5,1497.5 673.5,1483.0 713.5,1495.3 753.5,1488.3 793.5,1467.6 833.5,1464.5 873.5,1472.4 913.5,1467.2 954.5,1479.5 994.5,1474.6 1034.5,1505.9 1074.5,1493.1 1114.5,1494.9 1154.5,1489.2 1194.5,1490.5 1234.5,1490.5 1274.5,1488.7 1314.5,1487.0 1354.5,1486.5 1394.5,1485.2 1434.5,1487.0 1474.5,1463.2 1514.5,1468.0 1554.5,1485.6 1594.5,1486.1 1634.5,1456.6 1674.5,1438.6 1714.5,1432.0 1754.5,1416.6 1794.5,1439.0 1835.5,1455.7 1875.5,1443.9 1915.5,1451.8 1955.5,1454.0 1995.5,1414.0 2035.5,1412.6 2075.5,1410.9 2115.5,1402.5 2155.5,1397.7 2195.5,1410.0 2235.5,1397.3 2275.5,1414.4 2315.5,1421.9 2355.5,1424.1 2395.5,1426.7 2435.5,1423.2 2475.5,1418.4 2515.5,1461.5 2555.5,1450.9 2595.5,1444.3 2635.5,1441.7 2675.5,1423.2 2716.5,1450.5 2756.5,1462.8" fill="none" stroke="#7e57c2" stroke-width="1.6" stroke-linejoin="round" stroke-linecap="round"/>
<text x="2799.7" y="1463.4" font-size="30.4" fill="#000" textLength="193.3" lengthAdjust="spacingAndGlyphs">RSI - Above 50</text>
</g>
<text x="26.6" y="1408.5" font-size="17.4" fill="#000" textLength="115.0" lengthAdjust="spacingAndGlyphs" stroke="#000" stroke-width="0.2">RSI (14, close)</text>
<text x="151.9" y="1408.3" font-size="17.4" fill="#7e57c2" textLength="45.2" lengthAdjust="spacingAndGlyphs" stroke="#7e57c2" stroke-width="0.2">54.06</text>
<text x="207.1" y="1408.3" font-size="17.4" fill="#ffeb3b" textLength="45.9" lengthAdjust="spacingAndGlyphs" stroke="#ffeb3b" stroke-width="0.2">63.30</text>
<text x="268.7" y="1407.8" font-size="15" fill="#131722" text-anchor="middle" stroke="#131722" stroke-width="0.2">∅</text>
<text x="291.6" y="1407.8" font-size="15" fill="#131722" text-anchor="middle" stroke="#131722" stroke-width="0.2">∅</text>
<text x="314.5" y="1407.8" font-size="15" fill="#131722" text-anchor="middle" stroke="#131722" stroke-width="0.2">∅</text>
<text x="337.4" y="1407.8" font-size="15" fill="#131722" text-anchor="middle" stroke="#131722" stroke-width="0.2">∅</text>
<text x="360.3" y="1407.8" font-size="15" fill="#131722" text-anchor="middle" stroke="#131722" stroke-width="0.2">∅</text>
<text x="383.2" y="1407.8" font-size="15" fill="#131722" text-anchor="middle" stroke="#131722" stroke-width="0.2">∅</text>
<text x="26.5" y="1585.8" font-size="17.4" fill="#000" textLength="125.4" lengthAdjust="spacingAndGlyphs" stroke="#000" stroke-width="0.2">Stoch (14, 5, 7)</text>
<text x="161.8" y="1585.8" font-size="17.4" fill="#2962ff" textLength="44.7" lengthAdjust="spacingAndGlyphs" stroke="#2962ff" stroke-width="0.2">60.02</text>
<text x="217.6" y="1585.8" font-size="17.4" fill="#ff6d00" textLength="44.8" lengthAdjust="spacingAndGlyphs" stroke="#ff6d00" stroke-width="0.2">64.14</text>
<g clip-path="url(#cm)">
<rect x="13.0" y="1760.0" width="39" height="11.0" fill="#ff5252"/>
<rect x="53.0" y="1753.4" width="40" height="7.6" fill="#26a69a"/>
<rect x="94.0" y="1753.4" width="39" height="7.6" fill="#b2dfdb"/>
<rect x="134.0" y="1752.1" width="39" height="8.9" fill="#26a69a"/>
<rect x="174.0" y="1760.0" width="39" height="7.1" fill="#ff5252"/>
<rect x="214.0" y="1760.0" width="39" height="19.0" fill="#ff5252"/>
<rect x="254.0" y="1760.0" width="39" height="19.0" fill="#ff5252"/>
<rect x="294.0" y="1760.0" width="39" height="18.1" fill="#ffcdd2"/>
<rect x="334.0" y="1760.0" width="39" height="15.0" fill="#ffcdd2"/>
<rect x="374.0" y="1760.0" width="39" height="15.9" fill="#ffcdd2"/>
<rect x="414.0" y="1760.0" width="39" height="8.8" fill="#ffcdd2"/>
<rect x="454.0" y="1760.0" width="39" height="12.8" fill="#ff5252"/>
<rect x="494.0" y="1760.0" width="39" height="17.2" fill="#ff5252"/>
<rect x="534.0" y="1760.0" width="39" height="22.0" fill="#ff5252"/>
<rect x="574.0" y="1760.0" width="39" height="25.1" fill="#ff5252"/>
<rect x="614.0" y="1760.0" width="39" height="22.0" fill="#ffcdd2"/>
<rect x="654.0" y="1760.0" width="39" height="14.1" fill="#ffcdd2"/>
<rect x="694.0" y="1760.0" width="39" height="13.2" fill="#ffcdd2"/>
<rect x="734.0" y="1760.0" width="39" height="9.3" fill="#ffcdd2"/>
<rect x="774.0" y="1757.0" width="39" height="4.0" fill="#26a69a"/>
<rect x="814.0" y="1749.9" width="39" height="11.1" fill="#26a69a"/>
<rect x="854.0" y="1746.9" width="39" height="14.1" fill="#26a69a"/>
<rect x="894.0" y="1745.1" width="39" height="15.9" fill="#26a69a"/>
<rect x="934.0" y="1746.9" width="40" height="14.1" fill="#b2dfdb"/>
<rect x="975.0" y="1748.2" width="39" height="12.8" fill="#b2dfdb"/>
<rect x="1015.0" y="1760.0" width="39" height="1.5" fill="#ff5252"/>
<rect x="1055.0" y="1760.0" width="39" height="4.0" fill="#ff5252"/>
<rect x="1095.0" y="1760.0" width="39" height="7.1" fill="#ff5252"/>
<rect x="1135.0" y="1760.0" width="39" height="6.2" fill="#ffcdd2"/>
<rect x="1175.0" y="1760.0" width="39" height="5.8" fill="#ffcdd2"/>
<rect x="1215.0" y="1760.0" width="39" height="4.9" fill="#ffcdd2"/>
<rect x="1255.0" y="1760.0" width="39" height="4.0" fill="#ffcdd2"/>
<rect x="1295.0" y="1760.0" width="39" height="1.8" fill="#ffcdd2"/>
<rect x="1335.0" y="1758.7" width="39" height="2.3" fill="#26a69a"/>
<rect x="1375.0" y="1757.8" width="39" height="3.2" fill="#26a69a"/>
<rect x="1415.0" y="1757.0" width="39" height="4.0" fill="#26a69a"/>
<rect x="1455.0" y="1752.1" width="39" height="8.9" fill="#26a69a"/>
<rect x="1495.0" y="1749.9" width="39" height="11.1" fill="#26a69a"/>
<rect x="1535.0" y="1752.1" width="39" height="8.9" fill="#b2dfdb"/>
<rect x="1575.0" y="1753.9" width="39" height="7.1" fill="#b2dfdb"/>
<rect x="1615.0" y="1749.1" width="39" height="11.9" fill="#26a69a"/>
<rect x="1655.0" y="1742.0" width="39" height="19.0" fill="#26a69a"/>
<rect x="1695.0" y="1735.0" width="39" height="26.0" fill="#26a69a"/>
<rect x="1735.0" y="1727.9" width="39" height="33.1" fill="#26a69a"/>
<rect x="1775.0" y="1729.3" width="39" height="31.7" fill="#b2dfdb"/>
<rect x="1815.0" y="1735.0" width="40" height="26.0" fill="#b2dfdb"/>
<rect x="1856.0" y="1736.3" width="39" height="24.7" fill="#b2dfdb"/>
<rect x="1896.0" y="1739.8" width="39" height="21.2" fill="#b2dfdb"/>
<rect x="1936.0" y="1745.1" width="39" height="15.9" fill="#b2dfdb"/>
<rect x="1976.0" y="1734.1" width="39" height="26.9" fill="#26a69a"/>
<rect x="2016.0" y="1727.9" width="39" height="33.1" fill="#26a69a"/>
<rect x="2056.0" y="1726.2" width="39" height="34.8" fill="#26a69a"/>
<rect x="2096.0" y="1723.1" width="39" height="37.9" fill="#26a69a"/>
<rect x="2136.0" y="1720.9" width="39" height="40.1" fill="#26a69a"/>
<rect x="2176.0" y="1724.0" width="39" height="37.0" fill="#b2dfdb"/>
<rect x="2216.0" y="1723.1" width="39" height="37.9" fill="#26a69a"/>
<rect x="2256.0" y="1729.3" width="39" height="31.7" fill="#b2dfdb"/>
<rect x="2296.0" y="1735.9" width="39" height="25.1" fill="#b2dfdb"/>
<rect x="2336.0" y="1742.9" width="39" height="18.1" fill="#b2dfdb"/>
<rect x="2376.0" y="1749.9" width="39" height="11.1" fill="#b2dfdb"/>
<rect x="2416.0" y="1754.8" width="39" height="6.2" fill="#b2dfdb"/>
<rect x="2456.0" y="1757.0" width="39" height="4.0" fill="#b2dfdb"/>
<rect x="2496.0" y="1760.0" width="39" height="10.2" fill="#ff5252"/>
<rect x="2536.0" y="1760.0" width="39" height="14.1" fill="#ff5252"/>
<rect x="2576.0" y="1760.0" width="39" height="15.0" fill="#ff5252"/>
<rect x="2616.0" y="1760.0" width="39" height="15.0" fill="#ffcdd2"/>
<rect x="2656.0" y="1760.0" width="39" height="8.8" fill="#ffcdd2"/>
<rect x="2696.0" y="1760.0" width="40" height="11.9" fill="#ff5252"/>
<rect x="2737.0" y="1760.0" width="39" height="17.2" fill="#ff5252"/>
<line x1="15" y1="1760.5" x2="3178.5" y2="1760.5" stroke="#787b86" stroke-width="1" stroke-dasharray="5,6" stroke-opacity="0.6"/>
<polyline points="-7.5,1745.1 32.5,1746.9 73.5,1745.1 113.5,1743.3 153.5,1741.6 193.5,1742.9 233.5,1747.7 273.5,1752.1 313.5,1756.1 353.5,1760.5 393.5,1764.0 433.5,1766.2 473.5,1769.3 513.5,1773.2 553.5,1778.5 593.5,1784.2 633.5,1789.5 673.5,1792.6 713.5,1795.7 753.5,1797.9 793.5,1797.0 833.5,1794.3 873.5,1791.3 913.5,1787.3 954.5,1784.2 994.5,1781.1 1034.5,1781.1 1074.5,1782.0 1114.5,1783.8 1154.5,1785.1 1194.5,1786.4 1234.5,1787.7 1274.5,1788.6 1314.5,1789.1 1354.5,1788.6 1394.5,1788.2 1434.5,1787.7 1474.5,1785.5 1514.5,1782.9 1554.5,1781.1 1594.5,1779.4 1634.5,1776.8 1674.5,1771.9 1714.5,1765.8 1754.5,1757.8 1794.5,1750.4 1835.5,1744.2 1875.5,1738.1 1915.5,1733.2 1955.5,1729.3 1995.5,1722.7 2035.5,1714.8 2075.5,1706.4 2115.5,1697.2 2155.5,1687.1 2195.5,1677.8 2235.5,1669.0 2275.5,1661.6 2315.5,1655.4 2355.5,1651.4 2395.5,1648.8 2435.5,1647.5 2475.5,1647.0 2515.5,1649.2 2555.5,1652.3 2595.5,1655.8 2635.5,1659.4 2675.5,1661.6 2716.5,1664.6 2756.5,1668.6" fill="none" stroke="#ff6d00" stroke-width="1.6" stroke-linejoin="round" stroke-linecap="round"/>
<polyline points="-7.5,1754.8 32.5,1757.4 73.5,1738.5 113.5,1737.2 153.5,1734.1 193.5,1748.2 233.5,1765.8 273.5,1770.2 313.5,1773.7 353.5,1775.9 393.5,1777.6 433.5,1773.7 473.5,1781.6 513.5,1789.5 553.5,1799.2 593.5,1808.4 633.5,1810.6 673.5,1805.8 713.5,1807.5 753.5,1805.8 793.5,1794.8 833.5,1784.2 873.5,1779.0 913.5,1772.4 954.5,1772.4 994.5,1769.3 1034.5,1780.7 1074.5,1785.1 1114.5,1789.9 1154.5,1790.8 1194.5,1791.7 1234.5,1792.1 1274.5,1791.3 1314.5,1789.5 1354.5,1787.7 1394.5,1786.0 1434.5,1785.1 1474.5,1777.6 1514.5,1772.8 1554.5,1773.2 1594.5,1773.7 1634.5,1766.2 1674.5,1753.0 1714.5,1741.6 1754.5,1725.7 1794.5,1718.7 1835.5,1718.7 1875.5,1714.3 1915.5,1713.9 1955.5,1714.3 1995.5,1696.7 2035.5,1683.1 2075.5,1672.1 2115.5,1659.8 2155.5,1648.4 2195.5,1643.1 2235.5,1632.5 2275.5,1630.3 2315.5,1631.7 2355.5,1634.7 2395.5,1639.1 2435.5,1642.2 2475.5,1644.4 2515.5,1657.6 2555.5,1666.0 2595.5,1670.8 2635.5,1674.3 2675.5,1670.3 2716.5,1675.6 2756.5,1684.4" fill="none" stroke="#2962ff" stroke-width="1.6" stroke-linejoin="round" stroke-linecap="round"/>
<g stroke="#b57cf5" stroke-width="1.4" fill="none" stroke-linecap="round"><line x1="2355.0" y1="1621.1" x2="2755.6" y2="1657.2"/><polyline points="2747.6,1648.7 2755.6,1657.2 2746.1,1663.7"/></g>
<text x="2718.6" y="1725.5" font-size="30.4" fill="#000" textLength="394.0" lengthAdjust="spacingAndGlyphs">MACD - Negative Divergences</text>
</g>
<text x="25.8" y="1637.0" font-size="17.4" fill="#000" textLength="168.1" lengthAdjust="spacingAndGlyphs" stroke="#000" stroke-width="0.2">MACD (12, 26, close)</text>
<text x="204.6" y="1637.0" font-size="17.4" fill="#ff5252" textLength="53.7" lengthAdjust="spacingAndGlyphs" stroke="#ff5252" stroke-width="0.2">−101.5</text>
<text x="269.1" y="1637.0" font-size="17.4" fill="#2962ff" textLength="44.2" lengthAdjust="spacingAndGlyphs" stroke="#2962ff" stroke-width="0.2">482.2</text>
<text x="324.2" y="1637.0" font-size="17.4" fill="#ff6d00" textLength="44.8" lengthAdjust="spacingAndGlyphs" stroke="#ff6d00" stroke-width="0.2">583.8</text>
<line x1="16" y1="1379.5" x2="3308" y2="1379.5" stroke="#b9bbc6" stroke-width="1.1"/>
<line x1="16" y1="1556.5" x2="3308" y2="1556.5" stroke="#b9bbc6" stroke-width="1.1"/>
<line x1="16" y1="1607.5" x2="3308" y2="1607.5" stroke="#b9bbc6" stroke-width="1.1"/>
<line x1="16" y1="1830.5" x2="3308.5" y2="1830.5" stroke="#000" stroke-width="1.2"/>
<line x1="3183.5" y1="42" x2="3183.5" y2="1883.5" stroke="#000" stroke-width="1.1"/>
<rect x="15" y="41" width="3294" height="1843" fill="none" stroke="#eeeef4" stroke-width="2"/>
<g clip-path="url(#ca)">
<text x="3198.6" y="94.2" font-size="24.2" fill="#000" textLength="93.2" lengthAdjust="spacingAndGlyphs">74,000.0</text>
<text x="3198.6" y="154.6" font-size="24.2" fill="#000" textLength="93.2" lengthAdjust="spacingAndGlyphs">73,600.0</text>
<text x="3198.6" y="215.0" font-size="24.2" fill="#000" textLength="93.2" lengthAdjust="spacingAndGlyphs">73,200.0</text>
<text x="3198.6" y="275.4" font-size="24.2" fill="#000" textLength="93.2" lengthAdjust="spacingAndGlyphs">72,800.0</text>
<text x="3198.6" y="335.8" font-size="24.2" fill="#000" textLength="93.2" lengthAdjust="spacingAndGlyphs">72,400.0</text>
<text x="3198.6" y="396.2" font-size="24.2" fill="#000" textLength="93.2" lengthAdjust="spacingAndGlyphs">72,000.0</text>
<text x="3198.6" y="456.6" font-size="24.2" fill="#000" textLength="93.2" lengthAdjust="spacingAndGlyphs">71,600.0</text>
<text x="3198.6" y="517.1" font-size="24.2" fill="#000" textLength="93.2" lengthAdjust="spacingAndGlyphs">71,200.0</text>
<text x="3198.6" y="577.5" font-size="24.2" fill="#000" textLength="93.2" lengthAdjust="spacingAndGlyphs">70,800.0</text>
<text x="3198.6" y="637.9" font-size="24.2" fill="#000" textLength="93.2" lengthAdjust="spacingAndGlyphs">70,400.0</text>
<text x="3198.6" y="698.3" font-size="24.2" fill="#000" textLength="93.2" lengthAdjust="spacingAndGlyphs">70,000.0</text>
<text x="3198.6" y="758.7" font-size="24.2" fill="#000" textLength="93.2" lengthAdjust="spacingAndGlyphs">69,600.0</text>
<text x="3198.6" y="819.1" font-size="24.2" fill="#000" textLength="93.2" lengthAdjust="spacingAndGlyphs">69,200.0</text>
<text x="3198.6" y="879.5" font-size="24.2" fill="#000" textLength="93.2" lengthAdjust="spacingAndGlyphs">68,800.0</text>
<text x="3198.6" y="939.9" font-size="24.2" fill="#000" textLength="93.2" lengthAdjust="spacingAndGlyphs">68,400.0</text>
<text x="3198.6" y="1000.3" font-size="24.2" fill="#000" textLength="93.2" lengthAdjust="spacingAndGlyphs">68,000.0</text>
<text x="3198.6" y="1060.7" font-size="24.2" fill="#000" textLength="93.2" lengthAdjust="spacingAndGlyphs">67,600.0</text>
<text x="3198.6" y="1121.2" font-size="24.2" fill="#000" textLength="93.2" lengthAdjust="spacingAndGlyphs">67,200.0</text>
<text x="3198.6" y="1181.6" font-size="24.2" fill="#000" textLength="93.2" lengthAdjust="spacingAndGlyphs">66,800.0</text>
<text x="3198.6" y="1242.0" font-size="24.2" fill="#000" textLength="93.2" lengthAdjust="spacingAndGlyphs">66,400.0</text>
<text x="3198.6" y="1302.4" font-size="24.2" fill="#000" textLength="93.2" lengthAdjust="spacingAndGlyphs">66,000.0</text>
<text x="3198.6" y="1362.8" font-size="24.2" fill="#000" textLength="93.2" lengthAdjust="spacingAndGlyphs">65,600.0</text>
<path d="M3183.0,110.9 h116.2 a3,3 0 0 1 3,3 v28.5 a3,3 0 0 1 -3,3 h-116.2 z" fill="#f23645"/>
<text x="3198.6" y="134.8" font-size="24.2" fill="#fff" textLength="93.2" lengthAdjust="spacingAndGlyphs" stroke="#fff" stroke-width="0.35">73,734.0</text>
<path d="M3183.0,388.9 h116.2 a3,3 0 0 1 3,3 v28.5 a3,3 0 0 1 -3,3 h-116.2 z" fill="#f23645"/>
<text x="3198.6" y="412.8" font-size="24.2" fill="#fff" textLength="92.9" lengthAdjust="spacingAndGlyphs" stroke="#fff" stroke-width="0.35">71,896.4</text>
<path d="M3183.0,469.9 h116.2 a3,3 0 0 1 3,3 v28.5 a3,3 0 0 1 -3,3 h-116.2 z" fill="#2962ff"/>
<text x="3198.6" y="493.8" font-size="24.2" fill="#fff" textLength="93.4" lengthAdjust="spacingAndGlyphs" stroke="#fff" stroke-width="0.35">71,358.9</text>
<path d="M3183.0,558.2 h116.2 a3,3 0 0 1 3,3 v56.5 a3,3 0 0 1 -3,3 h-116.2 z" fill="#000"/>
<text x="3198.6" y="581.7" font-size="24.2" fill="#fff" textLength="93.4" lengthAdjust="spacingAndGlyphs" stroke="#fff" stroke-width="0.35">70,776.9</text>
<text x="3199.1" y="609.2" font-size="24.2" fill="#c9cbd1" textLength="92.7" lengthAdjust="spacingAndGlyphs">02:52:00</text>
<path d="M3183.0,620.7 h116.2 a3,3 0 0 1 3,3 v27.8 a3,3 0 0 1 -3,3 h-116.2 z" fill="#2962ff"/>
<text x="3198.6" y="643.3" font-size="24.2" fill="#fff" textLength="93.2" lengthAdjust="spacingAndGlyphs" stroke="#fff" stroke-width="0.35">70,688.0</text>
<path d="M3183.0,673.0 h116.2 a3,3 0 0 1 3,3 v28.5 a3,3 0 0 1 -3,3 h-116.2 z" fill="#2962ff"/>
<text x="3198.6" y="696.9" font-size="24.2" fill="#fff" textLength="93.2" lengthAdjust="spacingAndGlyphs" stroke="#fff" stroke-width="0.35">70,017.0</text>
<path d="M3183.0,887.0 h116.2 a3,3 0 0 1 3,3 v28.8 a3,3 0 0 1 -3,3 h-116.2 z" fill="#089981"/>
<text x="3198.6" y="911.0" font-size="24.2" fill="#fff" textLength="93.4" lengthAdjust="spacingAndGlyphs" stroke="#fff" stroke-width="0.35">68,600.1</text>
<path d="M3183.0,1033.1 h116.2 a3,3 0 0 1 3,3 v28.3 a3,3 0 0 1 -3,3 h-116.2 z" fill="#089981"/>
<text x="3198.6" y="1056.9" font-size="24.2" fill="#fff" textLength="93.4" lengthAdjust="spacingAndGlyphs" stroke="#fff" stroke-width="0.35">67,636.9</text>
<path d="M3183.0,1181.1 h116.2 a3,3 0 0 1 3,3 v28.3 a3,3 0 0 1 -3,3 h-116.2 z" fill="#089981"/>
<text x="3198.6" y="1204.9" font-size="24.2" fill="#fff" textLength="92.9" lengthAdjust="spacingAndGlyphs" stroke="#fff" stroke-width="0.35">66,652.4</text>
<rect x="3188.4" y="46.6" width="114.1" height="38" rx="5" fill="#fff" stroke="#e9e9f1" stroke-width="1.6"/>
<text x="3201.6" y="73.2" font-size="24.7" fill="#131722" textLength="43.0" lengthAdjust="spacingAndGlyphs">USD</text>
<rect x="3183.0" y="1380.2" width="85.8" height="31.4" fill="#ffeb3b"/>
<text x="3198.6" y="1403.6" font-size="24.2" fill="#000" textLength="59.5" lengthAdjust="spacingAndGlyphs">63.30</text>
<rect x="3183.0" y="1411.6" width="85.8" height="35.6" fill="#fff"/>
<text x="3198.9" y="1436.9" font-size="24.2" fill="#000" textLength="59.1" lengthAdjust="spacingAndGlyphs">54.52</text>
<path d="M3183.0,1447 h82.8 a3,3 0 0 1 3,3 v27.7 a3,3 0 0 1 -3,3 h-82.8 z" fill="#7e57c2"/>
<text x="3198.9" y="1471.9" font-size="24.2" fill="#fff" textLength="58.9" lengthAdjust="spacingAndGlyphs" stroke="#fff" stroke-width="0.35">54.06</text>
<text x="3199.3" y="1515.8" font-size="24.2" fill="#000" textLength="58.4" lengthAdjust="spacingAndGlyphs">40.00</text>
<text x="3198.9" y="1643.7" font-size="24.2" fill="#000" textLength="58.9" lengthAdjust="spacingAndGlyphs">800.0</text>
<text x="3199.3" y="1706.0" font-size="24.2" fill="#000" textLength="58.4" lengthAdjust="spacingAndGlyphs">400.0</text>
<text x="3199.1" y="1768.2" font-size="24.2" fill="#000" textLength="33.7" lengthAdjust="spacingAndGlyphs">0.0</text>
<text x="3198.9" y="1830.4" font-size="24.2" fill="#000" textLength="71.5" lengthAdjust="spacingAndGlyphs">−400.0</text>
<path d="M3183.0,1634.2 h82.8 a3,3 0 0 1 3,3 v31.8 h-85.8 z" fill="#ff6d00"/>
<text x="3198.9" y="1659.8" font-size="24.2" fill="#fff" textLength="58.9" lengthAdjust="spacingAndGlyphs" stroke="#fff" stroke-width="0.35">583.8</text>
<path d="M3183.0,1669 h85.8 v30.8 a3,3 0 0 1 -3,3 h-82.8 z" fill="#2962ff"/>
<text x="3199.3" y="1693.9" font-size="24.2" fill="#fff" textLength="58.7" lengthAdjust="spacingAndGlyphs" stroke="#fff" stroke-width="0.35">482.2</text>
<path d="M3183.0,1759.1 h94.9 a3,3 0 0 1 3,3 v28.5 a3,3 0 0 1 -3,3 h-94.9 z" fill="#ff5252"/>
<text x="3198.9" y="1784.4" font-size="24.2" fill="#fff" textLength="71.5" lengthAdjust="spacingAndGlyphs" stroke="#fff" stroke-width="0.35">−101.5</text>
</g>
<text x="192.6" y="1863.4" font-size="24.2" fill="#000" text-anchor="middle">28</text>
<text x="432.6" y="1863.4" font-size="24.2" fill="#000" text-anchor="middle">29</text>
<text x="672.6" y="1863.4" font-size="24.2" fill="#000" text-anchor="middle">30</text>
<text x="912.6" y="1863.4" font-size="24.2" fill="#000" text-anchor="middle">31</text>
<text x="1153.6" y="1863.4" font-size="24.2" fill="#000" text-anchor="middle" font-weight="bold">Jun</text>
<text x="1393.6" y="1863.4" font-size="24.2" fill="#000" text-anchor="middle">2</text>
<text x="1633.6" y="1863.4" font-size="24.2" fill="#000" text-anchor="middle">3</text>
<text x="1874.6" y="1863.4" font-size="24.2" fill="#000" text-anchor="middle">4</text>
<text x="2114.6" y="1863.4" font-size="24.2" fill="#000" text-anchor="middle">5</text>
<text x="2354.6" y="1863.4" font-size="24.2" fill="#000" text-anchor="middle">6</text>
<text x="2594.6" y="1863.4" font-size="24.2" fill="#000" text-anchor="middle">7</text>
<text x="2835.6" y="1863.4" font-size="24.2" fill="#000" text-anchor="middle">8</text>
<text x="3075.6" y="1863.4" font-size="24.2" fill="#000" text-anchor="middle">9</text>
<g fill="#131722"><path d="M14.95,1902.1 h11.6 v14.9 h-5.75 v-9.1 h-5.85 z"/><circle cx="31.5" cy="1905.4" r="3.2"/><path d="M37.7,1902.1 h6.7 l-5.7,14.9 h-6.75 z"/></g>
<text x="49.3" y="1917.5" font-size="19" fill="#131722" textLength="105.9" lengthAdjust="spacingAndGlyphs" stroke="#131722" stroke-width="0.2">TradingView</text></svg></body></html>
